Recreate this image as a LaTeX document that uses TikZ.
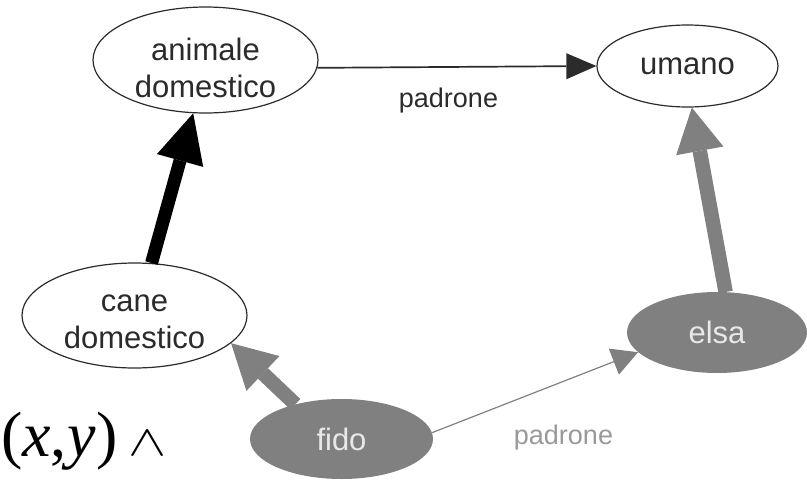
\documentclass[tikz,border=0pt]{standalone}
\usepackage{fontspec}
\setmainfont{Liberation Sans}
\newfontfamily\formulafont{Liberation Serif}
\usetikzlibrary{shapes.geometric,arrows.meta}

\definecolor{inkgray}{HTML}{2B2B2B}
\definecolor{nodegray}{HTML}{808080}
\definecolor{labelgray}{HTML}{999999}
\definecolor{palegray}{HTML}{E8E8E8}

\begin{document}
\begin{tikzpicture}[x=1pt,y=-1pt,
  nodefont/.style={font=\fontsize{31}{37}\selectfont},
  classnode/.style={ellipse, draw=inkgray, line width=1.2pt, fill=white, inner sep=0pt, text=inkgray, nodefont},
  instnode/.style={ellipse, fill=nodegray, inner sep=0pt, text=palegray, nodefont},
  nodetext/.style={align=center, text=inkgray, inner sep=0pt, nodefont},
  edgelabel/.style={anchor=base, inner sep=0pt, font=\fontsize{27}{32}\selectfont},
  relthin/.style={draw=inkgray, line width=1.7pt,
    -{Triangle[length=30pt,width=26pt,line width=0pt]}},
  relthingray/.style={draw=nodegray, line width=1.2pt,
    -{Triangle[length=26pt,width=28pt,line width=0pt]}},
  isathick/.style={draw=black, line width=13pt,
    -{Triangle[length=49pt,width=48pt,line width=0pt]}},
  instthick/.style={draw=nodegray, line width=14.5pt,
    -{Triangle[length=44pt,width=48pt,line width=0pt]}},
]
\useasboundingbox (0,0) rectangle (807,480);

% class level
\node[classnode, minimum width=225pt, minimum height=106pt] (animale) at (205.5,60) {};
\node[nodetext] (animaletxt) at (205.5,67.5) {animale\\domestico};
\node[classnode, minimum width=181pt, minimum height=82pt] (umano) at (687.5,66) {umano};
\node[classnode, minimum width=225pt, minimum height=105pt] (cane) at (134.5,315.5) {};
\node[nodetext] (canetxt) at (134.5,321.5) {cane\\domestico};

% instance level
\node[instnode, minimum width=180pt, minimum height=81pt] (elsa) at (717,332.5) {elsa};
\node[instnode, minimum width=183pt, minimum height=80pt] (fido) at (341.5,439) {fido};

% relations
\draw[relthin] (animale.-4) -- (umano.180);
\node[edgelabel, text=inkgray] (padronetop) at (448.5,107) {padrone};
\draw[isathick] (cane.72) -- (animale.257);
\draw[instthick] (elsa.78) -- (umano.276);
\draw[instthick] (fido.143) -- (cane.-16);
\draw[relthingray] (fido.4) -- (elsa.194);
\node[edgelabel, text=labelgray] (padronebottom) at (563.5,444) {padrone};

% formula fragment
\node[anchor=base west, inner sep=0pt, font=\formulafont\fontsize{64}{64}\selectfont]
  (formula) at (1,456) {(\textit{x},\kern1pt\textit{y})};
\node[anchor=south west, inner sep=0pt, xscale=2.3, yscale=1.75,
  font=\fontsize{24.88}{30}\selectfont] (wedge) at (128,456) {$\wedge$};
\end{tikzpicture}
\end{document}
